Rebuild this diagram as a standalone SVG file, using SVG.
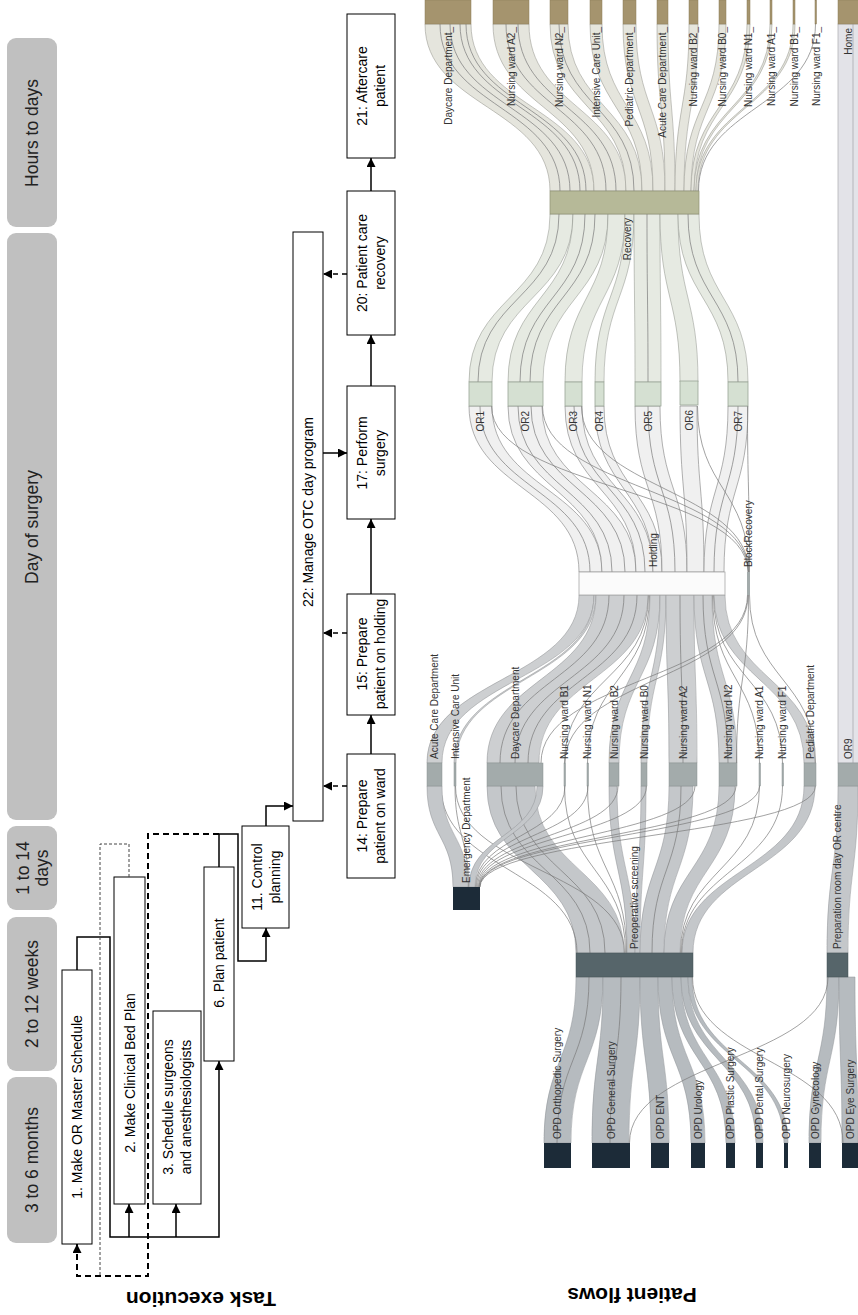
<svg xmlns="http://www.w3.org/2000/svg" width="858" height="1315" viewBox="0 0 858 1315">
<style>
text{font-family:"Liberation Sans",Arial,sans-serif;}
.tl{font-size:17.5px;fill:#222;}
.bx{font-size:14px;fill:#000;}
.sl{font-size:10px;fill:#333;}
.hd{font-size:21px;font-weight:bold;fill:#000;}
.band{fill:#c0c0c0;}
.tb{fill:#fff;stroke:#000;stroke-width:1;}
.ln{fill:none;stroke:#000;stroke-width:1.5;}
.dl{fill:none;stroke:#000;stroke-width:1.5;stroke-dasharray:5 4;}
.l1{fill:#b6bbbf;stroke:#8e9397;stroke-width:0.5;}
.l2{fill:#c4c7ca;stroke:#909396;stroke-width:0.5;}
.l3{fill:#cdcfd1;stroke:#8e9092;stroke-width:0.5;}
.l4{fill:#f0f0f0;stroke:#7d7d7d;stroke-width:0.6;}
.l5{fill:#e6eae2;stroke:#8a8e86;stroke-width:0.5;}
.l6{fill:#e5e5dd;stroke:#8e8e86;stroke-width:0.5;}
.th{fill:none;stroke:#7a7a7a;stroke-width:0.7;}
.nd{fill:#a5946e;stroke:#8c7c5a;stroke-width:0.5;}
.nw{fill:#a3abab;stroke:#8b9393;stroke-width:0.5;}
.no{fill:#d5e0d2;stroke:#9aa597;stroke-width:0.8;}
.nk{fill:#1c2b38;}
.np{fill:#56656a;stroke:#455357;stroke-width:0.5;}
</style>
<defs>
<marker id="ah" viewBox="0 0 10 10" refX="10" refY="5" markerWidth="9" markerHeight="9" markerUnits="userSpaceOnUse" orient="auto"><path d="M0,0 L10,5 L0,10 z" fill="#000"/></marker>
</defs>
<rect width="858" height="1315" fill="#fff"/>

<!-- time bands -->
<g id="time-3to6months"><rect class="band" x="7" y="1077" width="50" height="166" rx="9"/><text class="tl" transform="translate(32,1160) rotate(-90)" text-anchor="middle" dominant-baseline="central">3 to 6 months</text></g>
<g id="time-2to12weeks"><rect class="band" x="7" y="917" width="50" height="154" rx="9"/><text class="tl" transform="translate(32,994) rotate(-90)" text-anchor="middle" dominant-baseline="central">2 to 12 weeks</text></g>
<g id="time-1to14days"><rect class="band" x="7" y="826" width="50" height="84" rx="9"/><text class="tl" transform="translate(23,868) rotate(-90)" text-anchor="middle" dominant-baseline="central">1 to 14</text><text class="tl" transform="translate(42,868) rotate(-90)" text-anchor="middle" dominant-baseline="central">days</text></g>
<g id="time-dayofsurgery"><rect class="band" x="7" y="233" width="50" height="587" rx="9"/><text class="tl" transform="translate(32,527) rotate(-90)" text-anchor="middle" dominant-baseline="central">Day of surgery</text></g>
<g id="time-hourstodays"><rect class="band" x="7" y="38" width="50" height="189" rx="9"/><text class="tl" transform="translate(32,133) rotate(-90)" text-anchor="middle" dominant-baseline="central">Hours to days</text></g>

<!-- task boxes -->
<g id="task1"><rect class="tb" x="62" y="970" width="30" height="274"/><text class="bx" transform="translate(77,1107) rotate(-90)" text-anchor="middle" dominant-baseline="central">1. Make OR Master Schedule</text></g>
<g id="task2"><rect class="tb" x="114" y="877" width="31" height="327"/><text class="bx" transform="translate(129.5,1073) rotate(-90)" text-anchor="middle" dominant-baseline="central">2. Make Clinical Bed Plan</text></g>
<g id="task3"><rect class="tb" x="153" y="1011" width="48" height="193"/><text class="bx" transform="translate(168,1107) rotate(-90)" text-anchor="middle" dominant-baseline="central">3. Schedule surgeons</text><text class="bx" transform="translate(186,1107) rotate(-90)" text-anchor="middle" dominant-baseline="central">and anesthesiologists</text></g>
<g id="task6"><rect class="tb" x="204" y="867" width="30" height="194"/><text class="bx" transform="translate(219,963) rotate(-90)" text-anchor="middle" dominant-baseline="central">6. Plan patient</text></g>
<g id="task11"><rect class="tb" x="242" y="826" width="47" height="102"/><text class="bx" transform="translate(257,877) rotate(-90)" text-anchor="middle" dominant-baseline="central">11. Control</text><text class="bx" transform="translate(275,877) rotate(-90)" text-anchor="middle" dominant-baseline="central">planning</text></g>
<g id="task22"><rect class="tb" x="293" y="232" width="30" height="589"/><text class="bx" transform="translate(308,512) rotate(-90)" text-anchor="middle" dominant-baseline="central">22: Manage OTC day program</text></g>
<g id="task14"><rect class="tb" x="347" y="754" width="48" height="124"/><text class="bx" transform="translate(362,816) rotate(-90)" text-anchor="middle" dominant-baseline="central">14: Prepare</text><text class="bx" transform="translate(380,816) rotate(-90)" text-anchor="middle" dominant-baseline="central">patient on ward</text></g>
<g id="task15"><rect class="tb" x="347" y="594" width="48" height="121"/><text class="bx" transform="translate(362,654) rotate(-90)" text-anchor="middle" dominant-baseline="central">15: Prepare</text><text class="bx" transform="translate(380,654) rotate(-90)" text-anchor="middle" dominant-baseline="central">patient on holding</text></g>
<g id="task17"><rect class="tb" x="347" y="386" width="48" height="133"/><text class="bx" transform="translate(362,453) rotate(-90)" text-anchor="middle" dominant-baseline="central">17: Perform</text><text class="bx" transform="translate(380,453) rotate(-90)" text-anchor="middle" dominant-baseline="central">surgery</text></g>
<g id="task20"><rect class="tb" x="347" y="191" width="48" height="144"/><text class="bx" transform="translate(362,263) rotate(-90)" text-anchor="middle" dominant-baseline="central">20: Patient care</text><text class="bx" transform="translate(380,263) rotate(-90)" text-anchor="middle" dominant-baseline="central">recovery</text></g>
<g id="task21"><rect class="tb" x="347" y="14" width="48" height="144"/><text class="bx" transform="translate(362,86) rotate(-90)" text-anchor="middle" dominant-baseline="central">21: Aftercare</text><text class="bx" transform="translate(380,86) rotate(-90)" text-anchor="middle" dominant-baseline="central">patient</text></g>

<!-- task connectors -->
<g id="task-connectors">
<path class="ln" d="M77 970 V937 H110 V1237 H219 V1061" marker-end="url(#ah)"/>
<path class="ln" d="M129 1237 V1204" marker-end="url(#ah)"/>
<path class="ln" d="M176 1237 V1204" marker-end="url(#ah)"/>
<path class="ln" d="M219 867 V834 H238 V961 H266 V928" marker-end="url(#ah)"/>
<path class="ln" d="M266 826 V806 H293" marker-end="url(#ah)"/>
<path fill="none" stroke="#000" stroke-width="2" stroke-dasharray="6 4" d="M219 834 H148 V1276 H77 V1244" marker-end="url(#ah)"/>
<path fill="none" stroke="#444" stroke-width="1" stroke-dasharray="3 2" d="M129 877 V844 H100 V1276"/>
<path class="ln" d="M371 754 V715" marker-end="url(#ah)"/>
<path class="ln" d="M371 594 V519" marker-end="url(#ah)"/>
<path class="ln" d="M371 386 V335" marker-end="url(#ah)"/>
<path class="ln" d="M371 191 V158" marker-end="url(#ah)"/>
<path class="ln" d="M323 453 H347" marker-end="url(#ah)"/>
<path class="dl" d="M347 786 H323" marker-end="url(#ah)"/>
<path class="dl" d="M347 633 H323" marker-end="url(#ah)"/>
<path class="dl" d="M347 274 H323" marker-end="url(#ah)"/>
</g>

<text class="hd" transform="translate(201,1299) rotate(180)" text-anchor="middle" dominant-baseline="central">Task execution</text>
<text class="hd" transform="translate(632,1295) rotate(180)" text-anchor="middle" dominant-baseline="central">Patient flows</text>

<!-- sankey links -->
<g id="flow-links">
<rect x="838" y="24" width="22" height="739" fill="#e3e3e8" stroke="#a9a9ae" stroke-width="0.7"/>
<line x1="853" y1="24" x2="853" y2="763" stroke="#a0a0a6" stroke-width="0.7"/>
<!-- layer 1 OPD -> preop -->
<path class="l1" d="M544 1143C544 1060 576 1060 576 977L603 977C603 1060 571 1060 571 1143Z"/>
<path class="l1" d="M592 1143C592 1060 603 1060 603 977L640 977C640 1060 629 1060 629 1143Z"/>
<path class="l1" d="M651 1143C651 1060 640 1060 640 977L658 977C658 1060 669 1060 669 1143Z"/>
<path class="l1" d="M691 1143C691 1060 658 1060 658 977L672 977C672 1060 705 1060 705 1143Z"/>
<path class="l1" d="M726 1143C726 1060 672 1060 672 977L681 977C681 1060 735 1060 735 1143Z"/>
<path class="l1" d="M756 1143C756 1060 681 1060 681 977L688 977C688 1060 763 1060 763 1143Z"/>
<path class="l1" d="M784 1143C784 1060 688 1060 688 977L692 977C692 1060 788 1060 788 1143Z"/>
<path class="l1" d="M809 1143C809 1060 827 1060 827 977L839 977C839 1060 821 1060 821 1143Z"/>
<path class="l1" d="M842 1143C842 1060 839 1060 839 977L855 977C855 1060 858 1060 858 1143Z"/>
<path class="th" d="M843 1143C843 1060 692.5 1060 692.5 977"/>
<path class="th" d="M629.5 1143C629.5 1060 828 1060 828 977"/>
<path class="th" d="M557 1143C557 1060 589 1060 589 977"/>
<path class="th" d="M610 1143C610 1060 621 1060 621 977"/>
<!-- prep -> OR9 -->
<path class="l2" d="M827 953C827 870 838 870 838 786L858 786C858 870 848 870 848 953Z"/>
<!-- layer 2 preop -> wards -->
<path class="l2" d="M576 953C576 870 487 870 487 786L535 786C535 870 624 870 624 953Z"/>
<path class="l2" d="M627 953C627 870 609 870 609 786L617 786C617 870 635 870 635 953Z"/>
<path class="l2" d="M635 953C635 870 641 870 641 786L646 786C646 870 640 870 640 953Z"/>
<path class="l2" d="M640 953C640 870 669 870 669 786L693 786C693 870 664 870 664 953Z"/>
<path class="l2" d="M664 953C664 870 719 870 719 786L735 786C735 870 680 870 680 953Z"/>
<path class="l2" d="M682 953C682 870 804 870 804 786L815 786C815 870 693 870 693 953Z"/>
<path class="th" d="M590 953C590 870 501 870 501 786"/>
<path class="th" d="M605 953C605 870 516 870 516 786"/>
<path class="th" d="M652 953C652 870 681 870 681 786"/>
<path class="th" d="M624.5 953C624.5 870 455.5 870 455.5 786"/>
<path class="th" d="M625.5 953C625.5 870 564.5 870 564.5 786"/>
<path class="th" d="M626.5 953C626.5 870 587.5 870 587.5 786"/>
<path class="th" d="M680.5 953C680.5 870 759.5 870 759.5 786"/>
<path class="th" d="M681.5 953C681.5 870 782.5 870 782.5 786"/>
<path class="th" d="M577 953C577 870 441 870 441 786"/>
<!-- emergency -> wards -->
<path class="l2" d="M453 887C453 836 427 836 427 786L442 786C442 836 468 836 468 887Z"/>
<path class="l2" d="M469 887C469 836 537 836 537 786L543 786C543 836 475 836 475 887Z"/>
<path class="th" d="M468.5 887C468.5 836 455 836 455 786"/>
<path class="th" d="M475.5 887C475.5 836 565 836 565 786"/>
<path class="th" d="M476.5 887C476.5 836 588 836 588 786"/>
<path class="th" d="M477.5 887C477.5 836 618 836 618 786"/>
<path class="th" d="M478.5 887C478.5 836 646.5 836 646.5 786"/>
<path class="th" d="M479 887C479 836 695 836 695 786"/>
<path class="th" d="M479.5 887C479.5 836 736 836 736 786"/>
<path class="th" d="M479.7 887C479.7 836 759.5 836 759.5 786"/>
<path class="th" d="M480 887C480 836 815.5 836 815.5 786"/>
<!-- layer 3 wards -> holding -->
<path class="l3" d="M427 763C427 679 579 679 579 595L594 595C594 679 442 679 442 763Z"/>
<path class="l3" d="M454 763C454 679 594 679 594 595L596 595C596 679 456 679 456 763Z"/>
<path class="l3" d="M487 763C487 679 596 679 596 595L648 595C648 679 539 679 539 763Z"/>
<path class="l3" d="M609 763C609 679 650 679 650 595L660 595C660 679 619 679 619 763Z"/>
<path class="l3" d="M641 763C641 679 660 679 660 595L666 595C666 679 647 679 647 763Z"/>
<path class="l3" d="M669 763C669 679 666 679 666 595L694 595C694 679 697 679 697 763Z"/>
<path class="l3" d="M719 763C719 679 694 679 694 595L712 595C712 679 737 679 737 763Z"/>
<path class="l3" d="M804 763C804 679 714 679 714 595L725 595C725 679 815 679 815 763Z"/>
<path class="th" d="M500 763C500 679 609 679 609 595"/>
<path class="th" d="M515 763C515 679 624 679 624 595"/>
<path class="th" d="M528 763C528 679 637 679 637 595"/>
<path class="th" d="M683 763C683 679 680 679 680 595"/>
<path class="th" d="M728 763C728 679 703 679 703 595"/>
<path class="th" d="M564.5 763C564.5 679 648.5 679 648.5 595"/>
<path class="th" d="M587.5 763C587.5 679 649.5 679 649.5 595"/>
<path class="th" d="M759.5 763C759.5 679 712.5 679 712.5 595"/>
<path class="th" d="M782.5 763C782.5 679 713.5 679 713.5 595"/>
<path class="th" d="M541 763C541 679 747.5 679 747.5 595"/>
<path class="th" d="M565 763C565 679 748 679 748 595"/>
<path class="th" d="M736.5 763C736.5 679 748.5 679 748.5 595"/>
<path class="th" d="M815.5 763C815.5 679 749.5 679 749.5 595"/>
<!-- layer 4 holding -> OR -->
<path class="l4" d="M579 572C579 489 469 489 469 406L492 406C492 489 602 489 602 572Z"/>
<path class="l4" d="M602 572C602 489 508 489 508 406L542 406C542 489 636 489 636 572Z"/>
<path class="l4" d="M636 572C636 489 565 489 565 406L582 406C582 489 653 489 653 572Z"/>
<path class="l4" d="M653 572C653 489 595 489 595 406L604 406C604 489 662 489 662 572Z"/>
<path class="l4" d="M662 572C662 489 635 489 635 406L660 406C660 489 687 489 687 572Z"/>
<path class="l4" d="M687 572C687 489 680 489 680 406L697 406C697 489 704 489 704 572Z"/>
<path class="l4" d="M704 572C704 489 728 489 728 406L748 406C748 489 724 489 724 572Z"/>
<path class="th" d="M590 572C590 489 480 489 480 406"/>
<path class="th" d="M612 572C612 489 518 489 518 406"/>
<path class="th" d="M625 572C625 489 531 489 531 406"/>
<path class="th" d="M645 572C645 489 574 489 574 406"/>
<path class="th" d="M675 572C675 489 648 489 648 406"/>
<path class="th" d="M714 572C714 489 738 489 738 406"/>
<path class="th" d="M748 572C748 489 491.5 489 491.5 406"/>
<path class="th" d="M748.3 572C748.3 489 542.5 489 542.5 406"/>
<path class="th" d="M748.6 572C748.6 489 581.5 489 581.5 406"/>
<path class="th" d="M749 572C749 489 697.5 489 697.5 406"/>
<path class="th" d="M749.5 572C749.5 489 747.5 489 747.5 406"/>
<!-- layer 5 OR -> recovery -->
<path class="l5" d="M469 382C469 298 550 298 550 214L573 214C573 298 492 298 492 382Z"/>
<path class="l5" d="M508 382C508 298 573 298 573 214L608 214C608 298 543 298 543 382Z"/>
<path class="l5" d="M565 382C565 298 608 298 608 214L625 214C625 298 582 298 582 382Z"/>
<path class="l5" d="M595 382C595 298 625 298 625 214L634 214C634 298 604 298 604 382Z"/>
<path class="l5" d="M635 382C635 298 634 298 634 214L660 214C660 298 661 298 661 382Z"/>
<path class="l5" d="M680 382C680 298 660 298 660 214L678 214C678 298 698 298 698 382Z"/>
<path class="l5" d="M728 382C728 298 678 298 678 214L699 214C699 298 748 298 748 382Z"/>
<path class="th" d="M478 382C478 298 559 298 559 214"/>
<path class="th" d="M520 382C520 298 585 298 585 214"/>
<path class="th" d="M530 382C530 298 595 298 595 214"/>
<path class="th" d="M648 382C648 298 647 298 647 214"/>
<path class="th" d="M738 382C738 298 688 298 688 214"/>
<!-- layer 6 recovery -> destinations -->
<path class="l6" d="M550 191C550 107 425 107 425 24L471 24C471 107 594 107 594 191Z"/>
<path class="l6" d="M594 191C594 107 493 107 493 24L529 24C529 107 626 107 626 191Z"/>
<path class="l6" d="M626 191C626 107 550 107 550 24L568 24C568 107 642 107 642 191Z"/>
<path class="l6" d="M642 191C642 107 590 107 590 24L602 24C602 107 653 107 653 191Z"/>
<path class="l6" d="M653 191C653 107 623 107 623 24L636 24C636 107 665 107 665 191Z"/>
<path class="l6" d="M665 191C665 107 657 107 657 24L668 24C668 107 675 107 675 191Z"/>
<path class="l6" d="M675 191C675 107 689 107 689 24L698 24C698 107 684 107 684 191Z"/>
<path class="l6" d="M684 191C684 107 719 107 719 24L726 24C726 107 691 107 691 191Z"/>
<path class="l6" d="M691 191C691 107 747 107 747 24L750 24C750 107 694 107 694 191Z"/>
<path class="l6" d="M694 191C694 107 770 107 770 24L772 24C772 107 696 107 696 191Z"/>
<path class="l6" d="M696 191C696 107 793 107 793 24L795 24C795 107 698 107 698 191Z"/>
<path class="th" d="M698.5 191C698.5 107 815.5 107 815.5 24"/>
<path class="th" d="M560 191C560 107 440 107 440 24"/>
<path class="th" d="M570 191C570 107 450 107 450 24"/>
<path class="th" d="M580 191C580 107 460 107 460 24"/>
<path class="th" d="M586 191C586 107 466 107 466 24"/>
<path class="th" d="M606 191C606 107 506 107 506 24"/>
<path class="th" d="M616 191C616 107 518 107 518 24"/>
<path class="th" d="M634 191C634 107 559 107 559 24"/>
</g>

<!-- destination nodes -->
<g id="n-daycare-out"><rect class="nd" x="425" y="0" width="46" height="24"/><text class="sl" transform="translate(448,27) rotate(-90)" text-anchor="end" dominant-baseline="central">Daycare Department_</text></g>
<g id="n-a2-out"><rect class="nd" x="493" y="0" width="36" height="24"/><text class="sl" transform="translate(511,27) rotate(-90)" text-anchor="end" dominant-baseline="central">Nursing ward A2_</text></g>
<g id="n-n2-out"><rect class="nd" x="550" y="0" width="18" height="24"/><text class="sl" transform="translate(559,27) rotate(-90)" text-anchor="end" dominant-baseline="central">Nursing ward N2_</text></g>
<g id="n-icu-out"><rect class="nd" x="590" y="0" width="12" height="24"/><text class="sl" transform="translate(596,27) rotate(-90)" text-anchor="end" dominant-baseline="central">Intensive Care Unit_</text></g>
<g id="n-ped-out"><rect class="nd" x="623" y="0" width="13" height="24"/><text class="sl" transform="translate(629.5,27) rotate(-90)" text-anchor="end" dominant-baseline="central">Pediatric Department_</text></g>
<g id="n-acute-out"><rect class="nd" x="657" y="0" width="11" height="24"/><text class="sl" transform="translate(662.5,27) rotate(-90)" text-anchor="end" dominant-baseline="central">Acute Care Department_</text></g>
<g id="n-b2-out"><rect class="nd" x="689" y="0" width="9" height="24"/><text class="sl" transform="translate(693.5,27) rotate(-90)" text-anchor="end" dominant-baseline="central">Nursing ward B2_</text></g>
<g id="n-b0-out"><rect class="nd" x="719" y="0" width="7" height="24"/><text class="sl" transform="translate(722.5,27) rotate(-90)" text-anchor="end" dominant-baseline="central">Nursing ward B0_</text></g>
<g id="n-n1-out"><rect class="nd" x="747" y="0" width="3" height="24"/><text class="sl" transform="translate(748.5,27) rotate(-90)" text-anchor="end" dominant-baseline="central">Nursing ward N1_</text></g>
<g id="n-a1-out"><rect class="nd" x="770" y="0" width="2" height="24"/><text class="sl" transform="translate(771,27) rotate(-90)" text-anchor="end" dominant-baseline="central">Nursing ward A1_</text></g>
<g id="n-b1-out"><rect class="nd" x="793" y="0" width="2" height="24"/><text class="sl" transform="translate(794,27) rotate(-90)" text-anchor="end" dominant-baseline="central">Nursing ward B1_</text></g>
<g id="n-f1-out"><rect class="nd" x="815" y="0" width="1.5" height="24"/><text class="sl" transform="translate(816,27) rotate(-90)" text-anchor="end" dominant-baseline="central">Nursing ward F1_</text></g>
<g id="n-home"><rect class="nd" x="838" y="0" width="22" height="24"/><text class="sl" transform="translate(848,28) rotate(-90)" text-anchor="end" dominant-baseline="central">Home</text></g>

<g id="n-recovery"><rect x="550" y="191" width="149" height="23" fill="#b6b998" stroke="#8f9274" stroke-width="0.7"/><text class="sl" transform="translate(627,218) rotate(-90)" text-anchor="end" dominant-baseline="central">Recovery</text></g>

<g id="n-or1"><rect class="no" x="469" y="382" width="23" height="24"/><text class="sl" transform="translate(480.5,411) rotate(-90)" text-anchor="end" dominant-baseline="central">OR1</text></g>
<g id="n-or2"><rect class="no" x="508" y="382" width="35" height="24"/><text class="sl" transform="translate(525.5,411) rotate(-90)" text-anchor="end" dominant-baseline="central">OR2</text></g>
<g id="n-or3"><rect class="no" x="565" y="382" width="17" height="24"/><text class="sl" transform="translate(573.5,411) rotate(-90)" text-anchor="end" dominant-baseline="central">OR3</text></g>
<g id="n-or4"><rect class="no" x="595" y="382" width="9" height="24"/><text class="sl" transform="translate(599.5,411) rotate(-90)" text-anchor="end" dominant-baseline="central">OR4</text></g>
<g id="n-or5"><rect class="no" x="635" y="382" width="26" height="24"/><text class="sl" transform="translate(648,411) rotate(-90)" text-anchor="end" dominant-baseline="central">OR5</text></g>
<g id="n-or6"><rect class="no" x="680" y="381" width="18" height="24"/><text class="sl" transform="translate(689,410) rotate(-90)" text-anchor="end" dominant-baseline="central">OR6</text></g>
<g id="n-or7"><rect class="no" x="728" y="382" width="20" height="24"/><text class="sl" transform="translate(738,411) rotate(-90)" text-anchor="end" dominant-baseline="central">OR7</text></g>

<g id="n-holding"><rect x="579" y="572" width="146" height="23" fill="#fbfbfb" stroke="#a8a8a8" stroke-width="0.8"/><text class="sl" transform="translate(653,567) rotate(-90)" text-anchor="start" dominant-baseline="central">Holding</text></g>
<g id="n-blockrecovery"><rect x="747" y="572" width="3" height="23" fill="#a3abab"/><text class="sl" transform="translate(748.5,567) rotate(-90)" text-anchor="start" dominant-baseline="central">BlockRecovery</text></g>

<g id="n-acute"><rect class="nw" x="427" y="763" width="15" height="23"/><text class="sl" transform="translate(434.5,759) rotate(-90)" text-anchor="start" dominant-baseline="central">Acute Care Department</text></g>
<g id="n-icu"><rect class="nw" x="454" y="763" width="2" height="23"/><text class="sl" transform="translate(455,759) rotate(-90)" text-anchor="start" dominant-baseline="central">Intensive Care Unit</text></g>
<g id="n-daycare"><rect class="nw" x="487" y="763" width="56" height="23"/><text class="sl" transform="translate(515,759) rotate(-90)" text-anchor="start" dominant-baseline="central">Daycare Department</text></g>
<g id="n-b1"><rect class="nw" x="564" y="763" width="1.5" height="23"/><text class="sl" transform="translate(564.5,759) rotate(-90)" text-anchor="start" dominant-baseline="central">Nursing ward B1</text></g>
<g id="n-n1"><rect class="nw" x="587" y="763" width="1.5" height="23"/><text class="sl" transform="translate(587.5,759) rotate(-90)" text-anchor="start" dominant-baseline="central">Nursing ward N1</text></g>
<g id="n-b2"><rect class="nw" x="609" y="763" width="10" height="23"/><text class="sl" transform="translate(614,759) rotate(-90)" text-anchor="start" dominant-baseline="central">Nursing ward B2</text></g>
<g id="n-b0"><rect class="nw" x="641" y="763" width="6" height="23"/><text class="sl" transform="translate(644,759) rotate(-90)" text-anchor="start" dominant-baseline="central">Nursing ward B0</text></g>
<g id="n-a2"><rect class="nw" x="669" y="763" width="28" height="23"/><text class="sl" transform="translate(683,759) rotate(-90)" text-anchor="start" dominant-baseline="central">Nursing ward A2</text></g>
<g id="n-n2"><rect class="nw" x="719" y="763" width="18" height="23"/><text class="sl" transform="translate(728,759) rotate(-90)" text-anchor="start" dominant-baseline="central">Nursing ward N2</text></g>
<g id="n-a1"><rect class="nw" x="759" y="763" width="1.5" height="23"/><text class="sl" transform="translate(759.5,759) rotate(-90)" text-anchor="start" dominant-baseline="central">Nursing ward A1</text></g>
<g id="n-f1"><rect class="nw" x="782" y="763" width="1.5" height="23"/><text class="sl" transform="translate(782.5,759) rotate(-90)" text-anchor="start" dominant-baseline="central">Nursing ward F1</text></g>
<g id="n-ped"><rect class="nw" x="804" y="763" width="12" height="23"/><text class="sl" transform="translate(810,759) rotate(-90)" text-anchor="start" dominant-baseline="central">Pediatric Department</text></g>
<g id="n-or9"><rect class="nw" x="838" y="763" width="22" height="23"/><text class="sl" transform="translate(848,759) rotate(-90)" text-anchor="start" dominant-baseline="central">OR9</text></g>

<g id="n-emergency"><rect class="nk" x="453" y="887" width="27" height="23"/><text class="sl" transform="translate(466.5,883) rotate(-90)" text-anchor="start" dominant-baseline="central">Emergency Department</text></g>
<g id="n-preop"><rect class="np" x="576" y="953" width="117" height="24"/><text class="sl" transform="translate(634.5,949) rotate(-90)" text-anchor="start" dominant-baseline="central">Preoperative screening</text></g>
<g id="n-preproom"><rect class="np" x="827" y="953" width="21" height="24"/><text class="sl" transform="translate(837.5,949) rotate(-90)" text-anchor="start" dominant-baseline="central">Preparation room day OR centre</text></g>

<g id="n-opd-ortho"><rect class="nk" x="544" y="1143" width="27" height="25"/><text class="sl" transform="translate(557.5,1139) rotate(-90)" text-anchor="start" dominant-baseline="central">OPD Orthopedic Surgery</text></g>
<g id="n-opd-general"><rect class="nk" x="592" y="1143" width="38" height="25"/><text class="sl" transform="translate(611,1139) rotate(-90)" text-anchor="start" dominant-baseline="central">OPD General Surgery</text></g>
<g id="n-opd-ent"><rect class="nk" x="651" y="1143" width="18" height="25"/><text class="sl" transform="translate(660,1139) rotate(-90)" text-anchor="start" dominant-baseline="central">OPD ENT</text></g>
<g id="n-opd-urology"><rect class="nk" x="691" y="1143" width="14" height="25"/><text class="sl" transform="translate(698,1139) rotate(-90)" text-anchor="start" dominant-baseline="central">OPD Urology</text></g>
<g id="n-opd-plastic"><rect class="nk" x="726" y="1143" width="9" height="25"/><text class="sl" transform="translate(730.5,1139) rotate(-90)" text-anchor="start" dominant-baseline="central">OPD Plastic Surgery</text></g>
<g id="n-opd-dental"><rect class="nk" x="756" y="1143" width="7" height="25"/><text class="sl" transform="translate(759.5,1139) rotate(-90)" text-anchor="start" dominant-baseline="central">OPD Dental Surgery</text></g>
<g id="n-opd-neuro"><rect class="nk" x="784" y="1143" width="4" height="25"/><text class="sl" transform="translate(786,1139) rotate(-90)" text-anchor="start" dominant-baseline="central">OPD Neurosurgery</text></g>
<g id="n-opd-gyn"><rect class="nk" x="809" y="1143" width="12" height="25"/><text class="sl" transform="translate(815,1139) rotate(-90)" text-anchor="start" dominant-baseline="central">OPD Gynecology</text></g>
<g id="n-opd-eye"><rect class="nk" x="842" y="1143" width="18" height="25"/><text class="sl" transform="translate(850,1139) rotate(-90)" text-anchor="start" dominant-baseline="central">OPD Eye Surgery</text></g>
</svg>
